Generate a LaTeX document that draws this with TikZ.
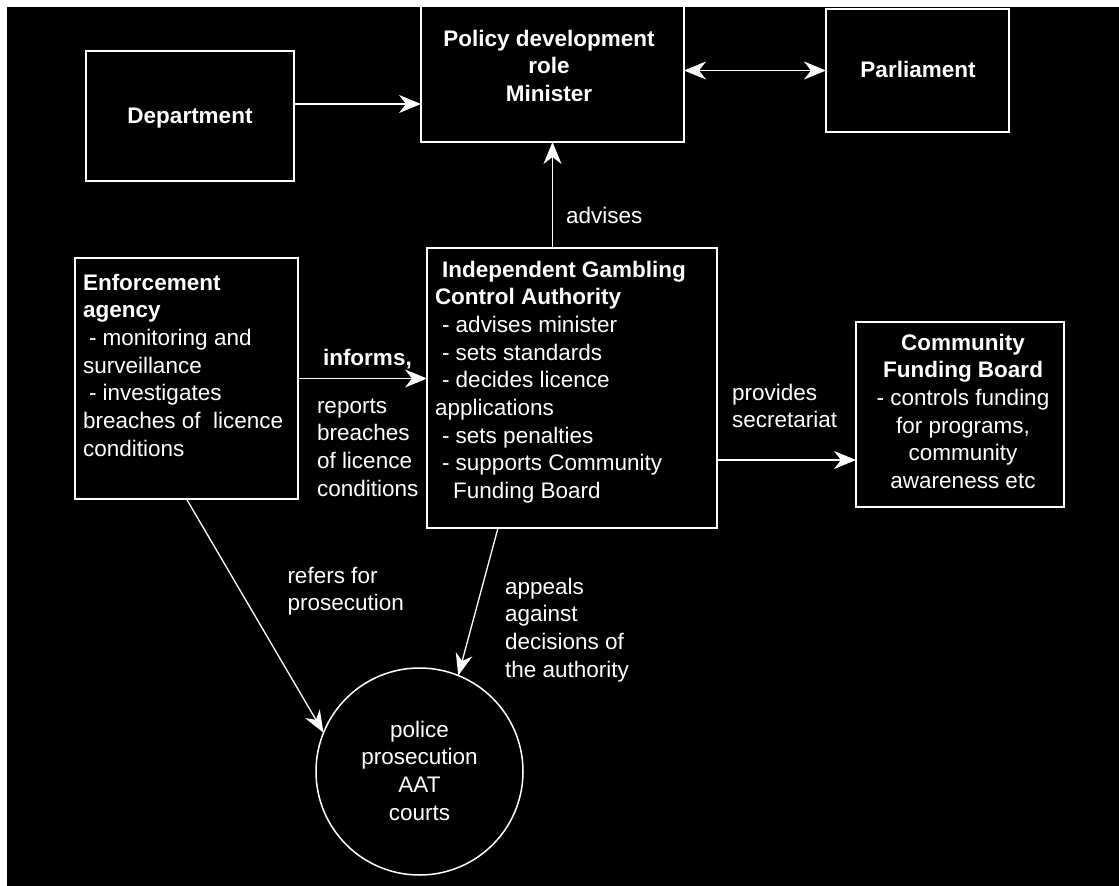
\documentclass[tikz,border=0pt]{standalone}
\usepackage{fontspec}
\setmainfont{Liberation Sans}
\usetikzlibrary{arrows.meta,calc}
\newcommand\mytl[1]{\begin{tabular}[t]{@{}l@{}}#1\end{tabular}}
\newcommand\mytc[1]{\begin{tabular}[t]{@{}c@{}}#1\end{tabular}}
\begin{document}
\begin{tikzpicture}[x=1pt,y=-1pt,
  every node/.style={text=white,inner sep=0pt,outer sep=0pt,font=\fontsize{22.5}{27.7}\selectfont},
  boxnode/.style={draw=white,line width=2pt,rectangle},
  txt/.style={anchor=base west},
  ctxt/.style={anchor=base},
  arr/.style={draw=white,line width=1.8pt,-{Stealth[length=22pt,width=18pt,inset=7pt]}},
  thinarr/.style={draw=white,line width=1.3pt,-{Stealth[length=22pt,width=17pt,inset=7pt]}},
  dblarr/.style={draw=white,line width=1.8pt,{Stealth[length=22pt,width=18pt,inset=7pt]}-{Stealth[length=22pt,width=18pt,inset=7pt]}}
]
\useasboundingbox (0,0) rectangle (1119,886);
\fill[white] (0,0) rectangle (1119,886);
\fill[black] (7,7) rectangle (1119,886);

% boxes
\node[boxnode,minimum width=208pt,minimum height=130pt] (dep) at (190,116) {};
\node[boxnode,minimum width=263pt,minimum height=140pt] (pol) at (552.5,72) {};
\node[boxnode,minimum width=183pt,minimum height=123pt] (parl) at (917.5,70.5) {};
\node[boxnode,minimum width=290pt,minimum height=280pt] (igca) at (572,388) {};
\node[boxnode,minimum width=223pt,minimum height=241pt] (enf) at (186.5,378.5) {};
\node[boxnode,minimum width=208pt,minimum height=185pt] (cfb) at (960,414.5) {};
\node[draw=white,line width=1.5pt,circle,minimum size=207pt] (circ) at (419.5,771.5) {};

% box texts
\node[ctxt] (depT) at (190,123) {\textbf{Department}};
\node[ctxt] (polT) at (549,46) {\mytc{\textbf{Policy development}\\\textbf{role}\\\textbf{Minister}}};
\node[ctxt] (parlT) at (918,77) {\textbf{Parliament}};
\node[txt] (igcaT) at (435,277) {\mytl{\hspace*{7pt}\textbf{Independent Gambling}\\
  \textbf{Control Authority}\\
  \hspace*{7pt}- advises minister\\
  \hspace*{7pt}- sets standards\\
  \hspace*{7pt}- decides licence\\
  applications\\
  \hspace*{7pt}- sets penalties\\
  \hspace*{7pt}- supports Community\\
  \hspace*{18pt}Funding Board}};
\node[txt] (enfT) at (83,290) {\mytl{\textbf{Enforcement}\\
  \textbf{agency}\\
  \hspace*{6pt}- monitoring and\\
  surveillance\\
  \hspace*{6pt}- investigates\\
  breaches of\ \ licence\\
  conditions}};
\node[ctxt] (cfbT) at (963,350) {\mytc{\textbf{Community}\\
  \textbf{Funding Board}\\
  - controls funding\\
  for programs,\\
  community\\
  awareness etc}};
\node[ctxt] (circT) at (419.5,737) {\mytc{police\\prosecution\\AAT\\courts}};

% connectors
\coordinate (dA) at ($(dep.east)+(0,-12)$);
\draw[arr] (dA) -- (dA -| pol.west);
\draw[dblarr] (pol.east |- parl.west) -- (parl.west);
\draw[arr] (pol.south |- igca.north) -- (pol.south);
\draw[arr] (enf.east) -- (enf.east -| igca.west);
\coordinate (pA) at ($(igca.east)+(0,72)$);
\draw[arr] (pA) -- (pA -| cfb.west);
\draw[thinarr] (enf.south) -- (circ.158);
\coordinate (gA) at ($(igca.south)+(-74,0)$);
\draw[thinarr] (gA) -- (circ.68);

% connector labels
\node[txt] (advL) at (566,223) {advises};
\node[txt] (infL) at (323,365) {\textbf{informs,}};
\node[txt] (repL) at (317,413) {\mytl{reports\\breaches\\of licence\\conditions}};
\node[txt] (provL) at (732,400) {\mytl{provides\\secretariat}};
\node[txt] (refL) at (287.5,583) {\mytl{refers for\\prosecution}};
\node[txt] (appL) at (505,594) {\mytl{appeals\\against\\decisions of\\the authority}};
\end{tikzpicture}
\end{document}
